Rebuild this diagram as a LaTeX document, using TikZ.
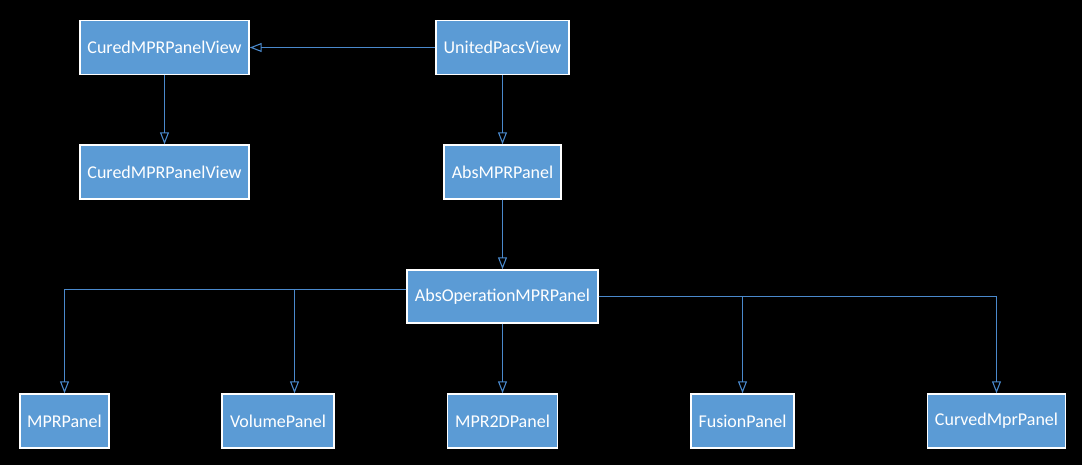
\documentclass[tikz,border=0pt]{standalone}
\usepackage{fontspec}
\setmainfont{Carlito}
\usetikzlibrary{arrows.meta}
\definecolor{boxblue}{HTML}{5B9BD5}
\definecolor{lineblue}{HTML}{4A89CC}
\begin{document}
\begin{tikzpicture}[x=0.75pt,y=-0.75pt,
 box/.style={draw=white,line width=1.1pt,fill=boxblue,text=white,
   font=\fontsize{13.5}{16}\selectfont,minimum height=40.5pt,inner sep=0pt,anchor=center},
 conn/.style={draw=lineblue,line width=0.8pt,-{Triangle[open,length=9pt,width=6.75pt]}}]
\fill[black] (0,0) rectangle (1082,465);
\useasboundingbox (0,0) rectangle (1082,465);
\node[box,minimum width=126.75pt] (cured1) at (164.5,47.5) {CuredMPRPanelView};
\node[box,minimum width=99.75pt] (united) at (502.5,47.5) {UnitedPacsView};
\node[box,minimum width=126.75pt] (cured2) at (164.5,172) {CuredMPRPanelView};
\node[box,minimum width=87.75pt] (absmpr) at (502.5,172) {AbsMPRPanel};
\node[box,minimum width=143.25pt,minimum height=39.75pt] (absop) at (502.5,296.5) {AbsOperationMPRPanel};
\node[box,minimum width=66.75pt] (mpr) at (64.5,421) {MPRPanel};
\node[box,minimum width=84pt] (volume) at (278,421) {VolumePanel};
\node[box,minimum width=82.5pt] (mpr2d) at (502.5,421) {MPR2DPanel};
\node[box,minimum width=77.25pt] (fusion) at (742.5,421) {FusionPanel};
\node[box,minimum width=103.5pt] (curved) at (996.5,421) {CurvedMprPanel};
\draw[conn] (united.west) -- (cured1.east);
\draw[conn] (cured1.south) -- (cured2.north);
\draw[conn] (united.south) -- (absmpr.north);
\draw[conn] (absmpr.south) -- (absop.north);
\draw[conn] (absop.south) -- (mpr2d.north);
\draw[conn] ([yshift=5.25pt]absop.west) -| (mpr.north);
\draw[conn] ([yshift=5.25pt]absop.west) -| ([xshift=12.375pt]volume.north);
\draw[conn] (absop.east) -| (fusion.north);
\draw[conn] (absop.east) -| (curved.north);
\end{tikzpicture}
\end{document}
